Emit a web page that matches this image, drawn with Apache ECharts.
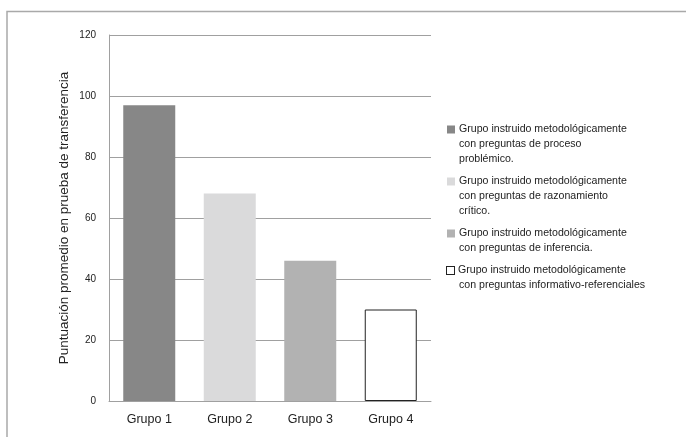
<!DOCTYPE html>
<html>
<head>
<meta charset="utf-8">
<script src="https://cdn.jsdelivr.net/npm/echarts@6/dist/echarts.min.js"></script>
<style>
  html, body { margin: 0; padding: 0; background: #fff; }
  #chart { width: 686px; height: 437px; }
</style>
</head>
<body>
<div id="chart"></div>
<script>
// Chart Data
const categories = ["Grupo 1", "Grupo 2", "Grupo 3", "Grupo 4"];
const seriesNames = [
  "Grupo instruido metodológicamente\ncon preguntas de proceso\nproblémico.",
  "Grupo instruido metodológicamente\ncon preguntas de razonamiento\ncrítico.",
  "Grupo instruido metodológicamente\ncon preguntas de inferencia.",
  "Grupo instruido metodológicamente\ncon preguntas informativo-referenciales",
];
const values = [97, 68, 46, 30];
const yTicks = [0, 20, 40, 60, 80, 100, 120];
const colors = ["#878787", "#dadadb", "#b2b2b2", "#ffffff"];

const font = "'Liberation Sans Narrow', 'Liberation Sans', Arial, sans-serif";

// Chart Functionalities
const chartElem = document.getElementById("chart");
let chart = echarts.init(chartElem, null, { renderer: "canvas" });

// one series per group, each only filled at its own category
let series = values.map(function (v, i) {
  let data = categories.map(function (c, j) { return j === i ? v : null; });
  return {
    name: seriesNames[i],
    type: "bar",
    barWidth: 52,
    barGap: "-100%",
    itemStyle: {
      color: colors[i],
      borderColor: i === 3 ? "#222" : colors[i],
      borderWidth: i === 3 ? 1 : 0,
    },
    emphasis: { disabled: true },
    data: data,
  };
});

let rich = {
  t: { fontFamily: font, fontSize: 10.6, color: "#222", lineHeight: 15, verticalAlign: "middle" },
  sp: { width: 12, height: 8 },
  g: { width: 4, height: 8 },
};
colors.forEach(function (c, i) {
  rich["b" + i] = {
    width: i === 3 ? 7 : 8,
    height: i === 3 ? 7 : 8,
    verticalAlign: "middle",
    backgroundColor: c,
    borderColor: i === 3 ? "#222" : c,
    borderWidth: i === 3 ? 1 : 0,
  };
});

let option = {
  animation: false,
  textStyle: { fontFamily: font },
  graphic: [
    {
      type: "polyline",
      shape: { points: [[7, 437], [7, 11.5], [686, 11.5]] },
      style: { stroke: "#a9a9a9", lineWidth: 1.5, fill: null },
    },
  ],
  legend: {
    orient: "vertical",
    left: 437,
    top: 117,
    icon: "none",
    itemWidth: 0,
    itemHeight: 0,
    itemGap: 7,
    selectedMode: false,
    data: seriesNames,
    formatter: function (name) {
      let i = seriesNames.indexOf(name);
      return name.split("\n").map(function (line, k) {
        return (k === 0 ? "{b" + i + "|}{g|}" : "{sp|}") + "{t|" + line + "}";
      }).join("\n");
    },
    textStyle: { rich: rich, lineHeight: 15 },
  },
  grid: { left: 109, right: 255, top: 35, bottom: 36 },
  xAxis: {
    type: "category",
    data: categories,
    axisLine: { show: true, lineStyle: { color: "#a0a0a0", width: 1 } },
    axisTick: { show: false },
    axisLabel: { color: "#222", fontSize: 12.5, fontFamily: font, margin: 12 },
  },
  yAxis: {
    type: "value",
    min: 0,
    max: 120,
    interval: 20,
    name: "Puntuación promedio en prueba de transferencia",
    nameLocation: "middle",
    nameGap: 38,
    nameTextStyle: { color: "#222", fontSize: 13.5, fontFamily: font },
    axisLine: { show: true, lineStyle: { color: "#a0a0a0", width: 1 } },
    axisTick: { show: false },
    axisLabel: {
      color: "#222",
      fontSize: 10,
      fontFamily: font,
      margin: 13,
      formatter: function (v) { return yTicks.indexOf(v) >= 0 ? String(v) : ""; },
    },
    splitLine: { show: true, lineStyle: { color: "#a0a0a0", width: 1 } },
  },
  series: series,
};

chart.setOption(option);
</script>
</body>
</html>
